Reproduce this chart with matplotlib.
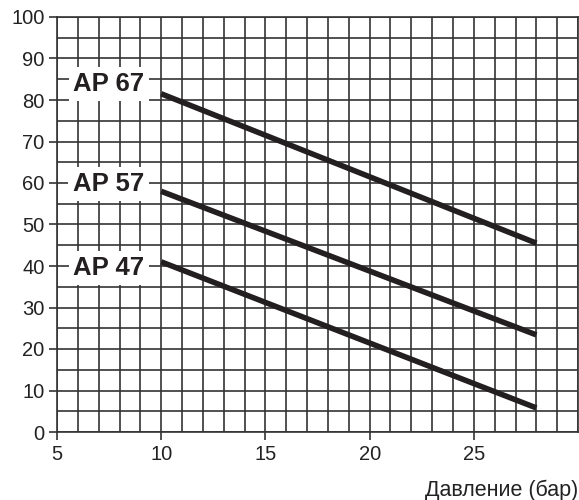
import numpy as np
import matplotlib
matplotlib.use('Agg')
import matplotlib.pyplot as plt

plt.rcParams['font.family'] = ['Liberation Sans', 'DejaVu Sans']

# pump models and their lines (pressure in bar -> value)
models = ['AP 67', 'AP 57', 'AP 47']
pressure_start = [10, 10, 10]
pressure_end = [28, 28, 28]
value_start = [81.5, 58, 41]
value_end = [45.5, 23.4, 5.8]
label_y = [83.8, 59.8, 39.5]

fig = plt.figure(figsize=(5.79, 5.0), dpi=100)
ax = fig.add_axes([0.0984, 0.136, 0.9, 0.83])

ax.set_xlim(5, 30)
ax.set_ylim(0, 100)
ax.set_xticks([5, 10, 15, 20, 25])
ax.set_yticks(np.arange(0, 101, 10))
ax.set_xticks(np.arange(5, 31, 1), minor=True)
ax.set_yticks(np.arange(0, 101, 5), minor=True)
ax.grid(which='both', color='#333333', linewidth=1.2)
ax.tick_params(which='major', direction='out', length=6, width=1.2, color='#333333',
               labelsize=14.5, labelcolor='#222222', pad=3)
ax.tick_params(which='minor', length=0)
for s in ax.spines.values():
    s.set_color('#333333')
    s.set_linewidth(1.2)

for i in range(len(models)):
    ax.plot([pressure_start[i], pressure_end[i]], [value_start[i], value_end[i]],
            color='#231f20', linewidth=4, solid_capstyle='butt', zorder=5)
    ax.text(9.2, label_y[i], models[i], fontsize=18.5, fontweight='bold',
            ha='right', va='center', color='#231f20', zorder=6,
            bbox=dict(facecolor='white', edgecolor='none', pad=3.5))

fig.text(0.998, 0.02, 'Давление (бар)', ha='right', va='center', fontsize=15.5, color='#222222')

fig.savefig('out.png', dpi=100)
